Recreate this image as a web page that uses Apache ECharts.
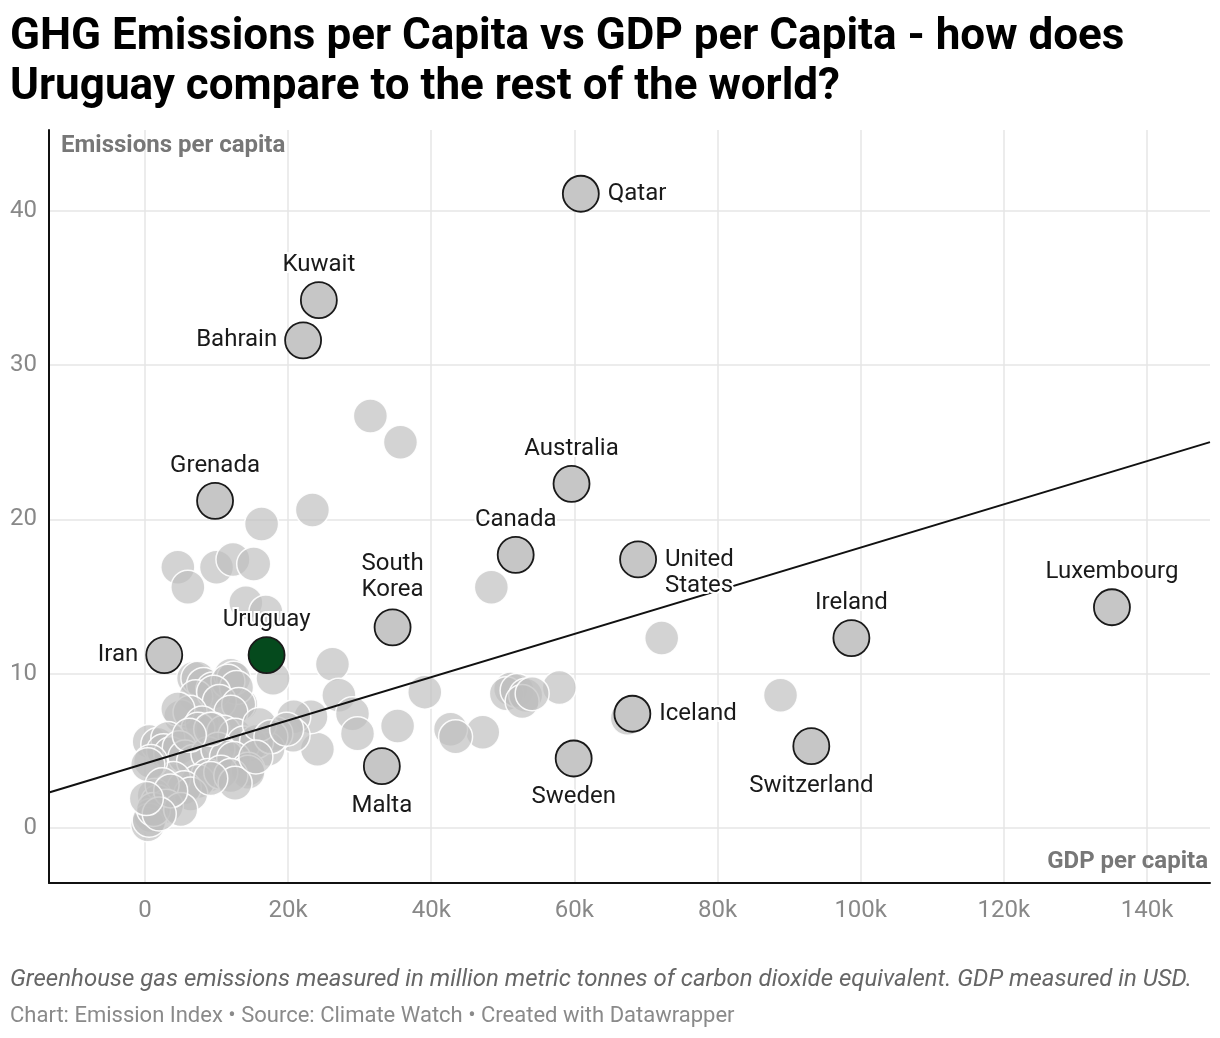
<!DOCTYPE html>
<html>
<head>
<meta charset="utf-8">
<script src="https://cdn.jsdelivr.net/npm/echarts@6/dist/echarts.min.js"></script>
<style>
html,body{margin:0;padding:0;background:#fff;}
#chart{width:1220px;height:1038px;}
</style>
</head>
<body>
<div id="chart"></div>
<script>
// GDP per capita in thousands of USD, emissions per capita
const labeledNames = ['Qatar','Kuwait','Bahrain','Grenada','Australia','Canada','United States','South Korea','Iran','Luxembourg','Ireland','Iceland','Switzerland','Sweden','Malta'];
const labeledGdp   = [60.9, 24.3, 22.1, 9.8, 59.6, 51.8, 68.9, 34.6, 2.7, 135.1, 98.7, 68.1, 93.1, 59.9, 33.1];
const labeledEm    = [41.1, 34.2, 31.6, 21.2, 22.3, 17.7, 17.4, 13.0, 11.2, 14.3, 12.3, 7.4, 5.3, 4.5, 4.0];

const highlightName = 'Uruguay';
const highlightGdp = 17.0;
const highlightEm = 11.2;

const otherPoints = [
  [31.5,26.7],[35.7,25.0],[23.4,20.6],[16.3,19.7],[48.4,15.6],[72.2,12.3],[88.8,8.6],[57.9,9.1],[67.4,7.1],
  [39.1,8.8],[35.3,6.6],[47.2,6.2],[42.7,6.4],[43.4,5.9],[51.1,9.0],[50.5,8.7],[52.0,8.9],[53.2,8.6],[52.7,8.2],[54.1,8.7],
  [26.2,10.6],[27.1,8.6],[29.0,7.4],[29.7,6.1],[24.1,5.1],[23.2,7.2],[20.8,7.2],[20.7,6.0],[18.3,6.1],[17.2,5.1],
  [14.8,5.4],[13.4,8.0],[17.9,9.7],
  [4.6,16.9],[6.0,15.6],[10.0,16.9],[12.3,17.4],[15.2,17.1],[14.1,14.6],[16.9,14.0],
  [6.8,9.7],[7.4,9.7],[8.2,9.3],[9.5,9.0],[12.0,9.9],[12.4,9.7],[11.6,9.5],[12.8,9.1],[7.1,8.5],[9.6,8.8],[10.4,8.2],
  [13.1,8.0],[12.0,7.5],[5.0,7.2],[6.3,7.5],[4.6,7.7],[8.0,6.8],[9.5,6.4],[7.4,6.4],[11.0,6.2],[12.6,6.0],[13.8,5.5],
  [15.6,5.6],[0.6,5.6],[1.8,5.4],[3.2,5.8],[2.6,5.0],[3.6,4.8],[4.8,5.2],[5.6,4.6],[6.8,4.3],[8.8,4.8],[10.2,5.1],
  [11.4,4.6],[12.4,4.5],[14.4,3.8],[14.4,3.6],[8.8,3.4],[7.4,3.0],[4.0,3.2],[5.5,2.6],[6.4,2.2],[10.6,3.6],[12.0,3.4],
  [12.6,2.9],[0.8,4.3],[0.4,4.1],[1.3,2.1],[1.8,1.7],[2.4,2.8],[3.0,1.4],[0.8,0.8],[0.4,0.2],[0.6,0.5],[1.2,1.2],
  [5.0,1.2],[3.6,2.4],[2.0,0.9],[0.2,1.9],[9.2,3.2],[9.2,6.4],[16.0,6.7],[17.6,5.9],[19.8,6.4],[15.5,4.6],[6.2,6.0]
];

const trendLine = [[-13.4, 2.3], [148.8, 25.0]];

const xTicks = [0, 20, 40, 60, 80, 100, 120, 140];
const yTicks = [0, 10, 20, 30, 40];

const labelStyle = {
  'Qatar': {position: 'right', distance: 8},
  'Kuwait': {position: 'top', distance: 3},
  'Bahrain': {position: 'left', distance: 7},
  'Grenada': {position: 'top', distance: 3},
  'Australia': {position: 'top', distance: 3},
  'Canada': {position: 'top', distance: 3},
  'United States': {position: 'right', distance: 8, align: 'left', offset: [0, 14]},
  'South Korea': {position: 'top', distance: 5},
  'Iran': {position: 'left', distance: 7},
  'Luxembourg': {position: 'top', distance: 3},
  'Ireland': {position: 'top', distance: 3},
  'Iceland': {position: 'right', distance: 8},
  'Switzerland': {position: 'bottom', distance: 8},
  'Sweden': {position: 'bottom', distance: 7},
  'Malta': {position: 'bottom', distance: 8},
  'Uruguay': {position: 'top', distance: 3}
};

const FONT = 'Roboto, "Noto Sans", sans-serif';

function labelFor(name) {
  const s = labelStyle[name] || {};
  return Object.assign({
    show: true,
    formatter: name.replace(' ', '\n'),
    color: '#1a1a1a',
    fontSize: 24,
    fontFamily: FONT,
    lineHeight: 26,
    textBorderColor: '#fff',
    textBorderWidth: 4
  }, s);
}

const labeledData = labeledNames.map((n, i) => ({
  name: n,
  value: [labeledGdp[i], labeledEm[i]],
  label: labelFor(n)
}));

const chart = echarts.init(document.getElementById('chart'), null, {renderer: 'canvas'});

chart.setOption({
  backgroundColor: '#fff',
  animation: false,
  grid: {left: 49, right: 10, top: 130, bottom: 155, containLabel: false},
  xAxis: {
    type: 'value',
    min: -13.4, max: 148.8,
    axisLine: {show: true, onZero: false, lineStyle: {color: '#111', width: 2}},
    axisTick: {show: false, customValues: xTicks},
    axisLabel: {
      customValues: xTicks,
      color: '#888', fontSize: 24, fontFamily: FONT, margin: 16,
      formatter: v => v === 0 ? '0' : v + 'k'
    },
    splitLine: {show: true, lineStyle: {color: '#e6e6e6', width: 1.5}}
  },
  yAxis: {
    type: 'value',
    min: -3.57, max: 45.23,
    axisLine: {show: true, onZero: false, lineStyle: {color: '#111', width: 2}},
    axisTick: {show: false, customValues: yTicks},
    axisLabel: {
      customValues: yTicks,
      color: '#888', fontSize: 24, fontFamily: FONT, margin: 12
    },
    splitLine: {show: true, lineStyle: {color: '#e6e6e6', width: 1.5}}
  },
  series: [
    {
      type: 'scatter',
      data: otherPoints,
      symbolSize: 34,
      silent: true,
      itemStyle: {color: 'rgba(190,190,190,0.68)', borderColor: 'rgba(255,255,255,0.9)', borderWidth: 1.5, opacity: 1}
    },
    {
      type: 'line',
      data: trendLine,
      symbol: 'none',
      silent: true,
      lineStyle: {color: '#111', width: 2},
      z: 3
    },
    {
      type: 'scatter',
      data: labeledData,
      symbolSize: 36,
      itemStyle: {color: '#c6c6c6', borderColor: '#1a1a1a', borderWidth: 1.8, opacity: 1},
      z: 4
    },
    {
      type: 'scatter',
      data: [{name: highlightName, value: [highlightGdp, highlightEm], label: labelFor(highlightName)}],
      symbolSize: 36,
      itemStyle: {color: '#054a1d', borderColor: '#1a1a1a', borderWidth: 1.8, opacity: 1},
      z: 5
    }
  ],
  graphic: [
    {type: 'text', left: 10, top: 16, style: {text: 'GHG Emissions per Capita vs GDP per Capita - how does', font: 'bold 44px ' + FONT, fill: '#000'}},
    {type: 'text', left: 10, top: 66, style: {text: 'Uruguay compare to the rest of the world?', font: 'bold 44px ' + FONT, fill: '#000'}},
    {type: 'text', left: 61, top: 134, z: 10, style: {text: 'Emissions per capita', font: 'bold 24px ' + FONT, fill: '#777'}},
    {type: 'text', right: 12, top: 850, z: 10, style: {text: 'GDP per capita', font: 'bold 24px ' + FONT, fill: '#777'}},
    {type: 'text', left: 10, top: 968, style: {text: 'Greenhouse gas emissions measured in million metric tonnes of carbon dioxide equivalent. GDP measured in USD.', font: 'italic 24px ' + FONT, fill: '#666'}},
    {type: 'text', left: 10, top: 1005, style: {text: 'Chart: Emission Index \u2022 Source: Climate Watch \u2022 Created with Datawrapper', font: '22px ' + FONT, fill: '#8a8a8a'}}
  ]
});
</script>
</body>
</html>
